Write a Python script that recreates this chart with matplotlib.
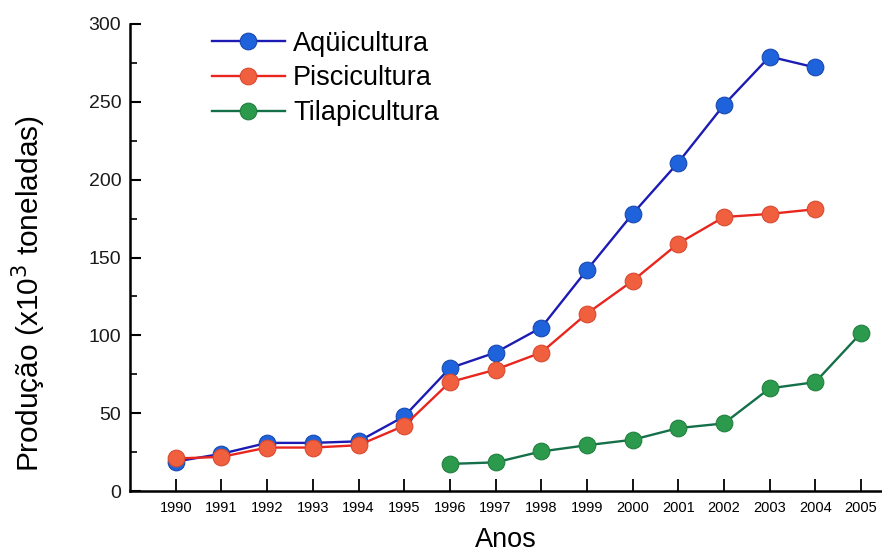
import numpy as np
from matplotlib import pyplot as plt
from matplotlib.ticker import MultipleLocator

plt.rcParams['font.family'] = ['Liberation Sans', 'DejaVu Sans']

# Data
anos = [1990, 1991, 1992, 1993, 1994, 1995, 1996, 1997, 1998, 1999, 2000, 2001, 2002, 2003, 2004]
aquicultura = [19, 24, 31, 31, 32, 48, 79, 89, 105, 142, 178, 211, 248, 279, 272]
piscicultura = [21, 22, 28, 28, 29.5, 42, 70, 78, 89, 114, 135, 159, 176, 178, 181]
anos_tilapia = [1996, 1997, 1998, 1999, 2000, 2001, 2002, 2003, 2004, 2005]
tilapicultura = [17.5, 18.5, 25.5, 29.5, 33, 40.5, 43.5, 66, 70, 101.5]
xticks = list(range(1990, 2006))

fig = plt.figure(figsize=(8.82, 5.55), dpi=100)
ax = fig.add_axes([0.147, 0.115, 0.853, 0.842])

ax.plot(anos, aquicultura, '-o', color='#1c1cb4', lw=1.7, ms=12,
        mfc='#1f63dc', mec='#1848b0', mew=0.8, label='Aqüicultura', zorder=3)
ax.plot(anos, piscicultura, '-o', color='#e8261e', lw=1.7, ms=12,
        mfc='#f0603e', mec='#d84a30', mew=0.8, label='Piscicultura', zorder=4)
ax.plot(anos_tilapia, tilapicultura, '-o', color='#15704a', lw=1.7, ms=12,
        mfc='#2b9a4c', mec='#20803e', mew=0.8, label='Tilapicultura', zorder=3)

ax.set_xlim(1988.99, 2005.46)
ax.set_ylim(0, 300)
ax.set_xticks(xticks)
ax.set_xticklabels([str(a) for a in xticks], fontsize=10.5)
ax.yaxis.set_major_locator(MultipleLocator(50))
ax.yaxis.set_minor_locator(MultipleLocator(25))
ax.tick_params(axis='y', which='major', direction='in', length=8, width=1.5, labelsize=14, pad=6)
ax.tick_params(axis='y', which='minor', direction='in', length=5, width=1.2)
ax.tick_params(axis='x', direction='in', length=9, width=1.3, pad=7)

ax.spines['top'].set_visible(False)
ax.spines['right'].set_visible(False)
ax.spines['left'].set_linewidth(1.8)
ax.spines['bottom'].set_linewidth(1.8)
for lbl in ax.get_yticklabels():
    lbl.set_color('#1a1a1a')

# axis titles
fig.text(0.574, 0.003, 'Anos', fontsize=19.5, ha='center', va='bottom')
ax.set_ylabel('Produção (x10$^3$ toneladas)', fontsize=21.5)
ax.yaxis.set_label_coords(-0.109, 0.423)

leg = fig.legend(loc='upper left', bbox_to_anchor=(0.24, 0.945), frameon=False,
                 fontsize=19.5, handlelength=2.7, handletextpad=0.3,
                 labelspacing=0.33, borderpad=0, borderaxespad=0)

fig.savefig('out.png', dpi=100)
